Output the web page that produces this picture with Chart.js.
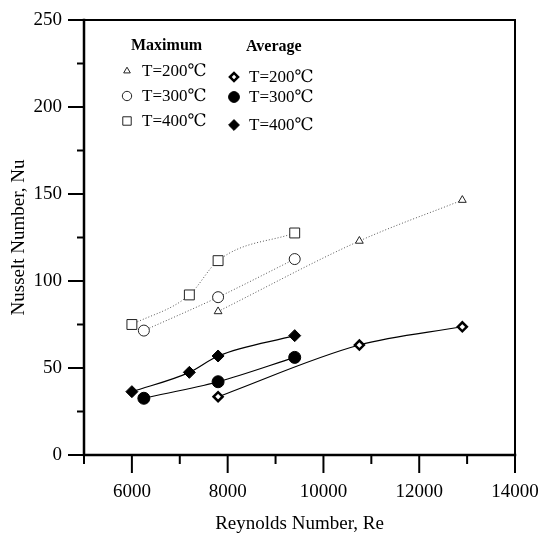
<!DOCTYPE html>
<html>
<head>
<meta charset="utf-8">
<script src="https://cdn.jsdelivr.net/npm/chart.js@4.4.0/dist/chart.umd.min.js"></script>
<style>
  html, body { margin: 0; padding: 0; background: #fff; }
</style>
</head>
<body>
<canvas id="js-canvas-nusselt" width="540" height="535"></canvas>
<script>
// Reynolds number / Nusselt number
const reMax200 = [7800, 10750, 12900];
const nuMax200 = [82.5, 123, 146.5];
const reMax300 = [6250, 7800, 9400];
const nuMax300 = [71.5, 90.7, 112.6];
const reMax400 = [6000, 7200, 7800, 9400];
const nuMax400 = [75, 92, 111.7, 127.6];

const reAvg200 = [7800, 10750, 12900];
const nuAvg200 = [33.5, 63.2, 73.7];
const reAvg300 = [6250, 7800, 9400];
const nuAvg300 = [32.6, 42.1, 56.1];
const reAvg400 = [6000, 7200, 7800, 9400];
const nuAvg400 = [36.4, 47.5, 56.9, 68.6];

const xTicks = [6000, 8000, 10000, 12000, 14000];
const yTicks = [0, 50, 100, 150, 200, 250];
const legendLabels = ['T=200\u2103', 'T=300\u2103', 'T=400\u2103'];

const serif = '"Liberation Serif", "DejaVu Serif", serif';

const pts = (xs, ys) => xs.map((x, i) => ({ x: x, y: ys[i] }));

const maxStyle = {
  borderColor: '#555',
  borderWidth: 1,
  borderDash: [1, 2],
  cubicInterpolationMode: 'monotone',
  pointBackgroundColor: '#fff',
  pointBorderColor: '#222',
  pointBorderWidth: 1
};
const avgStyle = {
  borderColor: '#000',
  borderWidth: 1.2,
  cubicInterpolationMode: 'monotone',
  pointBorderColor: '#000'
};

const datasets = [
  Object.assign({ data: pts(reMax200, nuMax200), pointStyle: 'triangle', pointRadius: 4.5 }, maxStyle),
  Object.assign({ data: pts(reMax300, nuMax300), pointStyle: 'circle', pointRadius: 5.5 }, maxStyle),
  Object.assign({ data: pts(reMax400, nuMax400), pointStyle: 'rect', pointRadius: 7 }, maxStyle),
  Object.assign({ data: pts(reAvg200, nuAvg200), pointStyle: 'rectRot', pointRadius: 4.5,
    pointBackgroundColor: '#fff', pointBorderWidth: 2.5 }, avgStyle),
  Object.assign({ data: pts(reAvg300, nuAvg300), pointStyle: 'circle', pointRadius: 6,
    pointBackgroundColor: '#000', pointBorderWidth: 1 }, avgStyle),
  Object.assign({ data: pts(reAvg400, nuAvg400), pointStyle: 'rectRot', pointRadius: 6,
    pointBackgroundColor: '#000', pointBorderWidth: 1 }, avgStyle)
];

// box, major/minor ticks and the two-column legend
const framePlugin = {
  id: 'frame',
  afterDraw(chart) {
    const ctx = chart.ctx;
    const a = chart.chartArea;
    const xs = chart.scales.x;
    const ys = chart.scales.y;
    ctx.save();
    ctx.strokeStyle = '#000';
    ctx.lineCap = 'square';
    // axes
    ctx.lineWidth = 2.5;
    ctx.beginPath();
    ctx.moveTo(a.left, a.top);
    ctx.lineTo(a.left, a.bottom);
    ctx.lineTo(a.right, a.bottom);
    ctx.stroke();
    ctx.lineWidth = 2;
    ctx.beginPath();
    ctx.moveTo(a.left, a.top);
    ctx.lineTo(a.right, a.top);
    ctx.lineTo(a.right, a.bottom);
    ctx.stroke();
    // ticks
    ctx.lineWidth = 2;
    ctx.lineCap = 'butt';
    for (let v = 5000; v <= 14000; v += 1000) {
      const px = xs.getPixelForValue(v);
      const len = v % 2000 === 0 ? 18 : 9;
      ctx.beginPath();
      ctx.moveTo(px, a.bottom);
      ctx.lineTo(px, a.bottom + len);
      ctx.stroke();
    }
    for (let v = 0; v <= 250; v += 25) {
      const py = ys.getPixelForValue(v);
      const len = v % 50 === 0 ? 16 : 7;
      ctx.beginPath();
      ctx.moveTo(a.left, py);
      ctx.lineTo(a.left - len, py);
      ctx.stroke();
    }
    // legend
    const ds = chart.data.datasets;
    ctx.fillStyle = '#000';
    ctx.textBaseline = 'middle';
    ctx.font = 'bold 16px ' + serif;
    ctx.textAlign = 'left';
    ctx.fillText('Maximum', 131, 46);
    ctx.fillText('Average', 246, 47);
    ctx.font = '17px ' + serif;
    const maxRows = [71, 96, 121];
    const avgRows = [77, 97, 125];
    for (let i = 0; i < 3; i++) {
      const m = ds[i];
      ctx.save();
      ctx.strokeStyle = m.pointBorderColor;
      ctx.fillStyle = m.pointBackgroundColor;
      ctx.lineWidth = m.pointBorderWidth;
      Chart.helpers.drawPoint(ctx, { pointStyle: m.pointStyle, radius: m.pointRadius * 0.85, rotation: 0, borderWidth: m.pointBorderWidth }, 127, maxRows[i]);
      ctx.restore();
      ctx.fillText(legendLabels[i], 142, maxRows[i] + 1);

      const g = ds[i + 3];
      ctx.save();
      ctx.strokeStyle = g.pointBorderColor;
      ctx.fillStyle = g.pointBackgroundColor;
      ctx.lineWidth = g.pointBorderWidth;
      Chart.helpers.drawPoint(ctx, { pointStyle: g.pointStyle, radius: g.pointRadius * 0.9, rotation: 0, borderWidth: g.pointBorderWidth }, 234, avgRows[i]);
      ctx.restore();
      ctx.fillText(legendLabels[i], 249, avgRows[i] + 1);
    }
    ctx.restore();
  }
};

const ctx = document.getElementById('js-canvas-nusselt');
new Chart(ctx, {
  type: 'line',
  data: { datasets: datasets },
  options: {
    responsive: false,
    animation: false,
    layout: { padding: { top: 20, right: 25, left: 0, bottom: 0 } },
    plugins: {
      legend: { display: false },
      tooltip: { enabled: false }
    },
    scales: {
      x: {
        type: 'linear',
        min: 5000,
        max: 14000,
        afterFit: s => { s.height = 80; s.paddingLeft = 0; s.paddingRight = 0; },
        afterBuildTicks: s => { s.ticks = xTicks.map(v => ({ value: v })); },
        grid: { display: false, drawTicks: false },
        border: { display: false },
        ticks: {
          autoSkip: false,
          maxRotation: 0,
          padding: 26,
          color: '#000',
          font: { family: serif, size: 19 },
          callback: v => String(v)
        },
        title: {
          display: true,
          text: 'Reynolds Number, Re',
          color: '#000',
          padding: { top: 0, bottom: 0 },
          font: { family: serif, size: 19 }
        }
      },
      y: {
        type: 'linear',
        min: 0,
        max: 250,
        afterFit: s => { s.width = 84; s.paddingTop = 0; s.paddingBottom = 0; },
        afterBuildTicks: s => { s.ticks = yTicks.map(v => ({ value: v })); },
        grid: { display: false, drawTicks: false },
        border: { display: false },
        ticks: {
          padding: 22,
          color: '#000',
          font: { family: serif, size: 19 },
          callback: v => String(v)
        },
        title: {
          display: true,
          text: 'Nusselt Number, Nu',
          color: '#000',
          padding: { top: 8, bottom: 0 },
          font: { family: serif, size: 19 }
        }
      }
    }
  },
  plugins: [framePlugin]
});
</script>
</body>
</html>
